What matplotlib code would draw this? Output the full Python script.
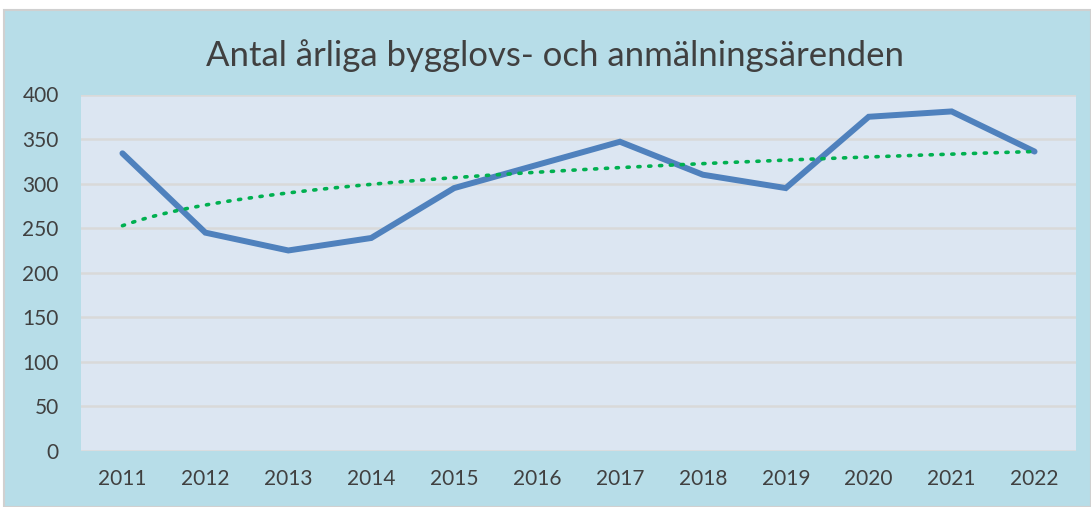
import numpy as np
import matplotlib
matplotlib.use("Agg")
import matplotlib.pyplot as plt
from matplotlib.patches import Rectangle

title = "Antal årliga bygglovs- och anmälningsärenden"
years = ["2011", "2012", "2013", "2014", "2015", "2016", "2017", "2018", "2019", "2020", "2021", "2022"]
cases = [334, 245, 225, 239, 295, 321, 347, 310, 295, 375, 381, 336]
yticks = [0, 50, 100, 150, 200, 250, 300, 350, 400]

plt.rcParams['font.family'] = ['Lato', 'DejaVu Sans']
W, H = 1091, 507
fig = plt.figure(figsize=(W / 100, H / 100), dpi=100, facecolor='white')

bg = Rectangle((4 / W, 0), 1 - 4 / W, (H - 10) / H, transform=fig.transFigure,
               facecolor='#b7dde8', edgecolor='#d0d0d0', linewidth=1.5, zorder=-10)
fig.patches.append(bg)

ax = fig.add_axes([81 / W, (H - 451) / H, (1076 - 81) / W, (451 - 94.5) / H])
ax.set_zorder(5)
ax.set_facecolor('#dce6f2')
x = np.arange(len(years))
ax.plot(x, cases, color='#4f81bd', linewidth=4.3, solid_capstyle='round', solid_joinstyle='miter', zorder=3)

# Logarithmic trendline (as in Excel), fitted from the data
lx = np.log(x + 1)
a, b = np.polyfit(lx, cases, 1)
xt = np.linspace(0, len(years) - 1, 300)
ax.plot(xt, a * np.log(xt + 1) + b, color='#00b050', linewidth=2.6, linestyle=(0, (0.6, 2.4)),
        dash_capstyle='round', zorder=4)

ax.set_xlim(-0.5, len(years) - 0.5)
ax.set_ylim(0, 400)
ax.set_yticks(yticks)
ax.set_xticks(x)
ax.set_xticklabels(years)
ax.grid(axis='y', color='#d9d9d9', linewidth=1.8, zorder=1)
ax.set_axisbelow(True)
for s in ax.spines.values():
    s.set_visible(False)
ax.tick_params(axis='both', length=0, labelsize=15, colors='#404040')
ax.tick_params(axis='y', pad=16)
ax.tick_params(axis='x', pad=13)

fig.text(555 / W, 1 - 56 / H, title, ha='center', va='center', fontsize=25, color='#404040', zorder=6)

fig.savefig('out.png', dpi=100, facecolor='white')
